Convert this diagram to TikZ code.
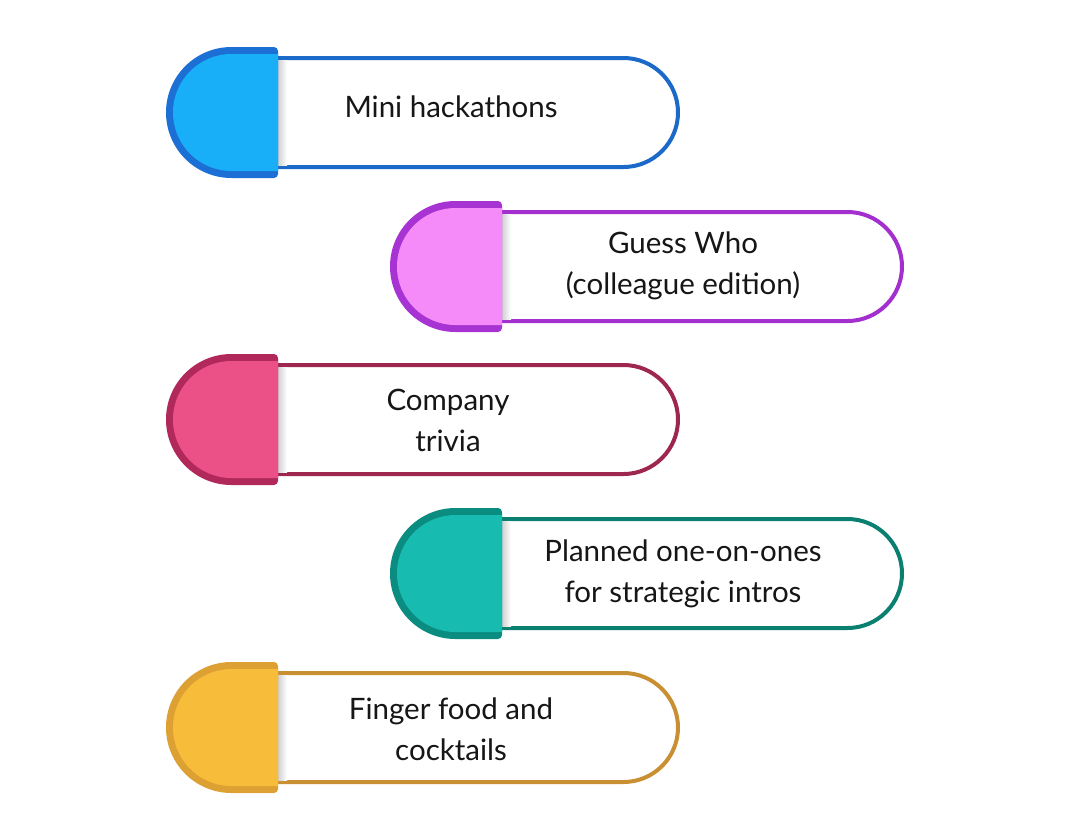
\documentclass[tikz,border=0pt]{standalone}
\usepackage{fontspec}
\setmainfont{Lato}
\usetikzlibrary{positioning}
\definecolor{BlueFill}{HTML}{18AEF8}
\definecolor{BlueDark}{HTML}{1C6FD4}
\definecolor{BlueLine}{HTML}{1B6AC9}
\definecolor{PurpleFill}{HTML}{F58AF9}
\definecolor{PurpleDark}{HTML}{A733D2}
\definecolor{PurpleLine}{HTML}{A22FCE}
\definecolor{RoseFill}{HTML}{EB5087}
\definecolor{RoseDark}{HTML}{B1295B}
\definecolor{RoseLine}{HTML}{9E2750}
\definecolor{TealFill}{HTML}{18BBB0}
\definecolor{TealDark}{HTML}{0B8C80}
\definecolor{TealLine}{HTML}{0B8070}
\definecolor{GoldFill}{HTML}{F7BD3A}
\definecolor{GoldDark}{HTML}{DDA032}
\definecolor{GoldLine}{HTML}{C98F33}
\definecolor{Ink}{HTML}{161616}

\begin{document}
\begin{tikzpicture}[x=1pt,y=1pt,yscale=-1,
    pilltext/.style={align=center,text=Ink,font=\fontsize{29.5}{41}\selectfont},
    body/.style={line width=4,fill=white}
  ]
    \useasboundingbox (0,0) rectangle (1080,836);
    \foreach \L/\T/\dx/\dy/\c/\name/\txt in {
        166/47/285/60/Blue/hack/{Mini hackathons},
        390/201/293/65/Purple/guess/{Guess Who\\(colleague edition)},
        166/354/282/66/Rose/trivia/{Company\\trivia},
        390/508/293/66/Teal/intros/{Planned one-on-ones\\for strategic intros},
        166/662/285/67/Gold/food/{Finger food and\\cocktails}}{
      % white body with round right end
      \draw[body,draw=\c Line] (\L+112,\T+11) -- (\L+457.5,\T+11)
        arc[start angle=-90,end angle=90,radius=54.5] -- (\L+112,\T+120);
      \shade[left color=black!18,right color=white] (\L+112,\T+13) rectangle (\L+121,\T+118);
      % coloured cap
      \fill[\c Dark] (\L+65.5,\T) -- (\L+108,\T) arc[start angle=-90,end angle=0,radius=4]
        -- (\L+112,\T+127) arc[start angle=0,end angle=90,radius=4]
        -- (\L+65.5,\T+131) arc[start angle=90,end angle=270,radius=65.5] -- cycle;
      \fill[\c Fill] (\L+65.5,\T+7) -- (\L+112,\T+7) -- (\L+112,\T+124)
        -- (\L+65.5,\T+124) arc[start angle=90,end angle=270,radius=58.5] -- cycle;
      \node[pilltext] (\name) at (\L+\dx,\T+\dy) {\txt};
    }
  \end{tikzpicture}
\end{document}
